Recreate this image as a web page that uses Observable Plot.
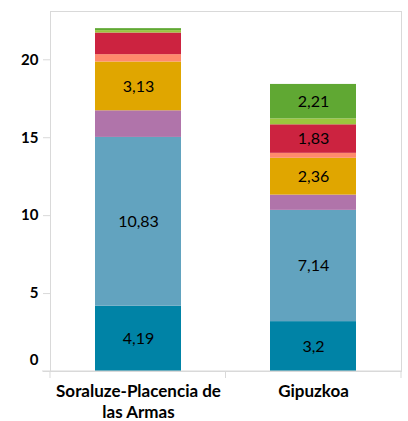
<!DOCTYPE html>
<html><head><meta charset="utf-8">
<script src="https://cdn.jsdelivr.net/npm/d3@7"></script>
<script src="https://cdn.jsdelivr.net/npm/@observablehq/plot@0.6"></script>
<style>body{margin:0;background:#fff;font-family:Lato,sans-serif}</style>
</head><body><div id="chart"></div>
<script>
const categories = ["Soraluze-Placencia de las Armas", "Gipuzkoa"];
const xTickLabels = ["Soraluze-Placencia de\nlas Armas", "Gipuzkoa"];
const series = ["s1", "s2", "s3", "s4", "s5", "s6", "s7", "s8"];
const colors = ["#0083a6", "#62a3bf", "#b074aa", "#e0a600", "#ff8a6c", "#cc2340", "#9bc63e", "#60a833"];
const soraluzeValues = [4.19, 10.83, 1.71, 3.13, 0.47, 1.39, 0.15, 0.13];
const gipuzkoaValues = [3.2, 7.14, 0.98, 2.36, 0.32, 1.83, 0.38, 2.21];
const yTicks = [0, 5, 10, 15, 20];

const valuesByCat = [soraluzeValues, gipuzkoaValues];
const data = [];
categories.forEach((c, i) => series.forEach((s, j) => data.push({cat: c, series: s, value: valuesByCat[i][j]})));
const fmt = v => String(v).replace(".", ",");
const grid = "#d9d9d9";

const plot = Plot.plot({
  width: 408, height: 421,
  marginTop: 11, marginBottom: 50, marginLeft: 50, marginRight: 7,
  style: {fontFamily: "Lato, sans-serif", background: "#fff"},
  x: {domain: categories, paddingInner: 0.51, paddingOuter: 0.255, label: null},
  y: {domain: [0, 23.1], label: null},
  color: {domain: series, range: colors},
  marks: [
    Plot.frame({stroke: grid}),
    Plot.barY(data, {x: "cat", y: "value", fill: "series"}),
    Plot.text(data, Plot.stackY({x: "cat", y: "value", text: d => d.value >= 1.8 ? fmt(d.value) : "", fontSize: 16, fill: "#000"})),
    Plot.axisY({ticks: yTicks, tickSize: 7, stroke: grid, tickFormat: () => ""}),
    Plot.axisY({ticks: yTicks.filter(t => t > 0), tickSize: 0, tickPadding: 12, fontSize: 15, fontWeight: "bold", fill: "#000"}),
    Plot.axisY({ticks: [0], tickSize: 0, tickPadding: 12, dy: -11, fontSize: 15, fontWeight: "bold", fill: "#000"}),
    Plot.axisX({tickSize: 0, tickPadding: 11, fontSize: 17, fontWeight: "bold", fill: "#000", lineHeight: 1.22,
      tickFormat: d => xTickLabels[categories.indexOf(d)]})
  ]
});
document.getElementById("chart").appendChild(plot);

// axis line extension and category boundary ticks
const xs = plot.scale("x");
const ys = plot.scale("y");
const svg = d3.select(plot);
const y0 = ys.apply(0);
const [r0, r1] = xs.range;
svg.append("line").attr("x1", r0 - 8).attr("x2", r1).attr("y1", y0).attr("y2", y0).attr("stroke", grid);
for (let i = 0; i <= categories.length; i++) {
  const bx = r0 + i * (r1 - r0) / categories.length;
  svg.append("line").attr("x1", bx).attr("x2", bx).attr("y1", y0).attr("y2", y0 + 7).attr("stroke", grid);
}
</script></body></html>
